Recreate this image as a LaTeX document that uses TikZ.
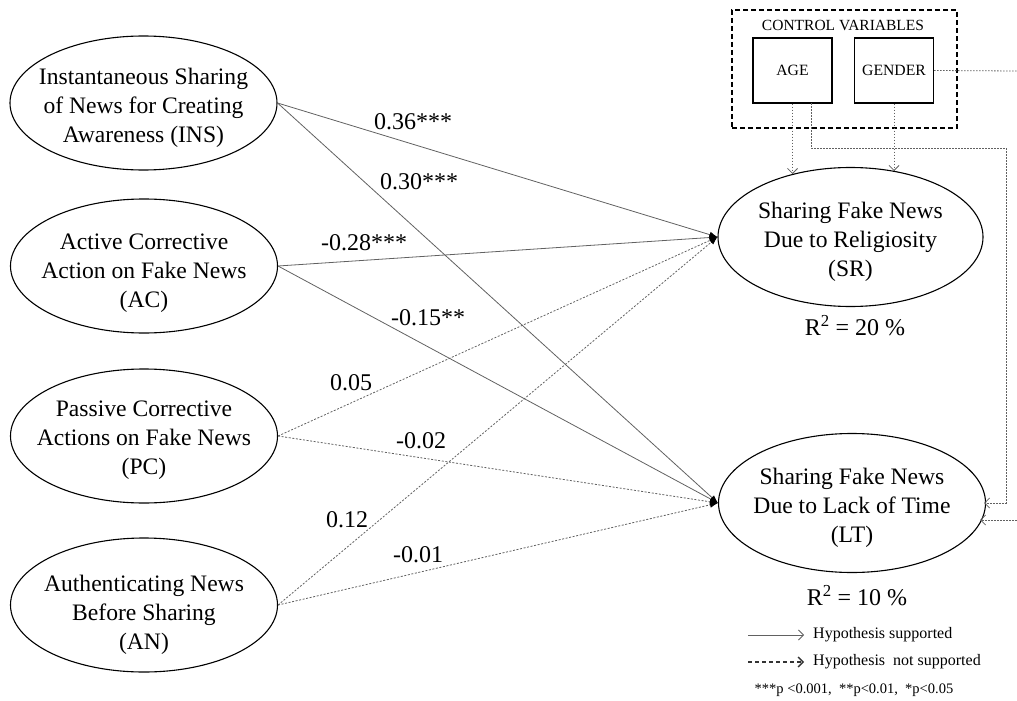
\documentclass[tikz,border=0pt]{standalone}
\usepackage{fontspec}
\setmainfont{Liberation Serif}
\usetikzlibrary{shapes.geometric,arrows.meta}

% invisible strut that lowers a text block inside its ellipse
\newcommand\toplift[1]{\rule{0pt}{#1}}

\tikzset{
  construct/.style={ellipse, draw=black, line width=1.1pt, minimum width=267pt,
    minimum height=134pt, inner xsep=-30pt, inner ysep=-12pt, align=center,
    font=\fontsize{23.6}{29}\selectfont},
  ctrlbox/.style={draw=black, line width=1.1pt, minimum width=79pt,
    minimum height=65pt, inner sep=0pt, font=\fontsize{15.7}{18}\selectfont},
  coef/.style={font=\fontsize{24}{28}\selectfont, inner sep=0pt},
  sig/.style={draw=black!62, line width=0.8pt, -{Latex[length=8pt,width=6pt,black]}},
  nonsig/.style={draw=black!62, line width=0.8pt, dash pattern=on 2pt off 1.6pt,
    -{Latex[length=8pt,width=6pt,black]}},
  ctrl/.style={draw=black!62, line width=0.8pt, dash pattern=on 1.6pt off 1.4pt},
  ctrlarrow/.style={ctrl, -{Straight Barb[length=5pt,width=10pt,black!62]}},
  legend/.style={font=\fontsize{16}{19}\selectfont, inner sep=0pt, anchor=west}
}

\begin{document}
\begin{tikzpicture}[x=1pt,y=-1pt]
\useasboundingbox (0,0) rectangle (1017,701);

% exogenous constructs
\node[construct] (INS) at (143.5,103) {\toplift{26pt}Instantaneous Sharing\\of News for Creating\\Awareness (INS)};
\node[construct] (AC)  at (144,266) {\toplift{30pt}Active Corrective\\Action on Fake News\\(AC)};
\node[construct] (PC)  at (144,436) {\toplift{24pt}Passive Corrective\\Actions on Fake News\\(PC)};
\node[construct] (AN)  at (144,605) {\toplift{37pt}Authenticating News\\Before Sharing\\(AN)};

% endogenous constructs
\node[construct, minimum width=265pt, minimum height=139pt] (SR) at (850.5,237) {\toplift{26pt}Sharing Fake News\\Due to Religiosity\\(SR)};
\node[construct, minimum width=267pt, minimum height=139pt] (LT) at (852,503) {\toplift{26pt}Sharing Fake News\\Due to Lack of Time\\(LT)};

\node[coef] (r2sr) at (855,326) {R\textsuperscript{2} = 20 \%};
\node[coef] (r2lt) at (857,596) {R\textsuperscript{2} = 10 \%};

% control variables
\node[draw=black, line width=1.2pt, dash pattern=on 5pt off 3pt, minimum width=225pt,
  minimum height=118pt, inner sep=0pt] (ctrlgroup) at (844.5,69) {};
\node[font=\fontsize{15.5}{18}\selectfont, inner sep=0pt] (ctrltitle) at (843,25) {CONTROL VARIABLES};
\node[ctrlbox] (AGE) at (792.5,70.5) {AGE};
\node[ctrlbox] (GENDER) at (894,70.5) {GENDER};

% structural paths
\draw[sig] (INS.east) -- (SR.west);
\draw[sig] (INS.east) -- (LT.west);
\draw[sig] (AC.east) -- (SR.west);
\draw[sig] (AC.east) -- (LT.west);
\draw[nonsig] (PC.east) -- (SR.west);
\draw[nonsig] (PC.east) -- (LT.west);
\draw[nonsig] (AN.east) -- (SR.west);
\draw[nonsig] (AN.east) -- (LT.west);

% path coefficients
\node[coef] (c1) at (413,122) {0.36***};
\node[coef] (c2) at (419,182) {0.30***};
\node[coef] (c3) at (364,243) {-0.28***};
\node[coef] (c4) at (428,318) {-0.15**};
\node[coef] (c5) at (351,383) {0.05};
\node[coef] (c6) at (421,441) {-0.02};
\node[coef] (c7) at (347,520) {0.12};
\node[coef] (c8) at (418,555) {-0.01};

% control paths
\coordinate (srage) at (792.5,174);
\coordinate (srgender) at (894,171);
\coordinate (agetap) at (811,103);
\coordinate (ltage) at (984,503);
\coordinate (ltgender) at (980,520);
\coordinate (edgegender) at (1017,71);
\coordinate (edgelt) at (1017,520);
\draw[ctrlarrow] (AGE.south) -- (srage);
\draw[ctrlarrow] (GENDER.south) -- (srgender);
\draw[ctrlarrow] (agetap) |- (1006,148) |- (ltage);
\draw[ctrl] (GENDER.east) -- (edgegender);
\draw[ctrlarrow] (edgelt) -- (ltgender);

% legend
\coordinate (l1a) at (748,635);
\coordinate (l1b) at (804,635);
\coordinate (l2a) at (748,662);
\coordinate (l2b) at (804,662);
\draw[draw=black!62, line width=0.8pt, -{Straight Barb[length=5pt,width=10pt,black!62]}] (l1a) -- (l1b);
\draw[draw=black!80, line width=1.1pt, dash pattern=on 4pt off 3pt, -{Straight Barb[length=5pt,width=10pt,black!80,line width=1.3pt]}] (l2a) -- (l2b);
\node[legend] (lg1) at (813,635) {Hypothesis supported};
\node[legend] (lg2) at (813,662) {Hypothesis\ \ not supported};
\node[font=\fontsize{14.5}{17}\selectfont, inner sep=0pt] (note) at (854,690) {***p <0.001,\ \ **p<0.01,\ \ *p<0.05};
\end{tikzpicture}
\end{document}
